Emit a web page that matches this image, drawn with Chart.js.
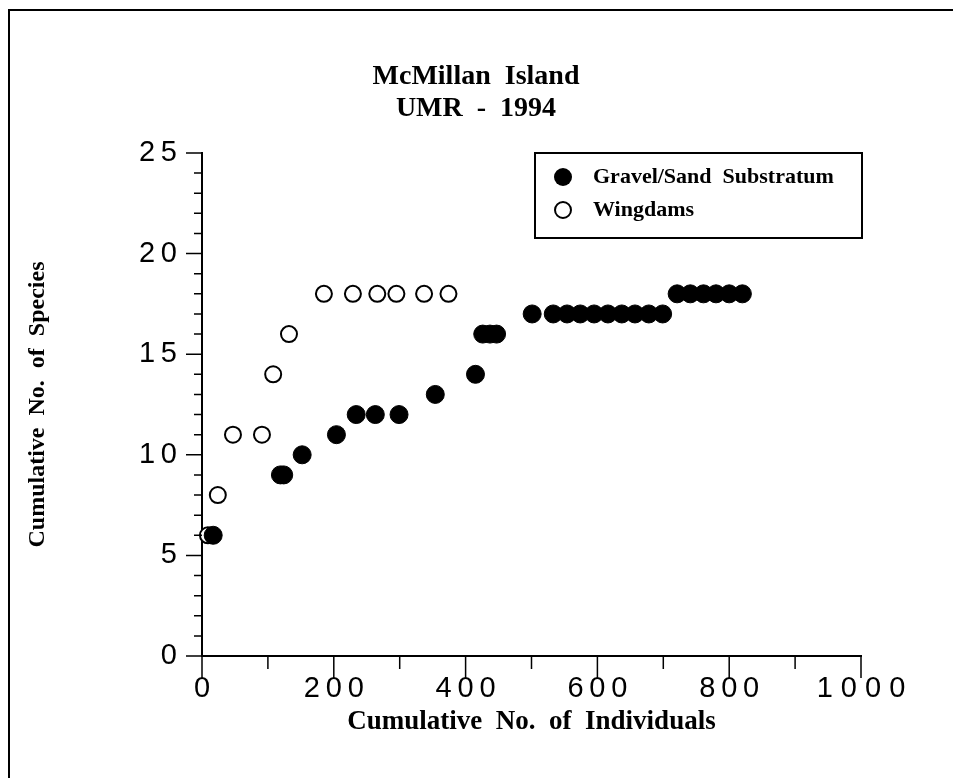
<!DOCTYPE html>
<html>
<head>
<meta charset="utf-8">
<title>McMillan Island - UMR 1994</title>
<script src="https://cdn.jsdelivr.net/npm/chart.js@4.4.1/dist/chart.umd.min.js"></script>
<style>
  html, body { margin: 0; padding: 0; background: #fff; }
  #wrap { position: relative; width: 953px; height: 778px; }
</style>
</head>
<body>
<div id="wrap"><canvas id="chart" width="953" height="778"></canvas></div>
<script>
// chart text
const titleLines = ['McMillan  Island', 'UMR  -  1994'];
const xTitle = 'Cumulative  No.  of  Individuals';
const yTitle = 'Cumulative  No.  of  Species';
const xTicks = [0, 200, 400, 600, 800, 1000];
const yTicks = [0, 5, 10, 15, 20, 25];

// Gravel/Sand substratum (filled circles)
const gravelLabel = 'Gravel/Sand  Substratum';
const gravelX = [17, 119, 124, 152, 204, 234, 263, 299, 354, 415, 426, 437, 447, 501,
  533, 554, 574, 595, 616, 637, 657, 678, 699, 721, 741, 761, 780, 800, 820];
const gravelY = [6, 9, 9, 10, 11, 12, 12, 12, 13, 14, 16, 16, 16, 17,
  17, 17, 17, 17, 17, 17, 17, 17, 17, 18, 18, 18, 18, 18, 18];

// Wingdams (open circles)
const wingLabel = 'Wingdams';
const wingX = [9, 24, 47, 91, 108, 132, 185, 229, 266, 295, 337, 374];
const wingY = [6, 8, 11, 11, 14, 16, 18, 18, 18, 18, 18, 18];

const toPoints = (xs, ys) => xs.map((x, i) => ({x: x, y: ys[i]}));
// digits are typeset loosely; the four-digit label a bit more so
const spaced = v => {
    const s = String(v);
    return s.split('').join(s.length > 3 ? ' ' : '\u2009');
};

// frame, minor ticks, title and boxed legend
const extras = {
    id: 'extras',
    afterDraw(chart) {
        const ctx = chart.ctx;
        const x = chart.scales.x;
        const y = chart.scales.y;
        ctx.save();
        ctx.strokeStyle = '#000';
        ctx.fillStyle = '#000';

        // page frame
        ctx.lineWidth = 2;
        ctx.strokeRect(9, 10, 980, 800);

        // tick marks, long at labelled values
        ctx.lineWidth = 1.5;
        ctx.beginPath();
        for (let v = y.min; v <= y.max; v++) {
            const py = y.getPixelForValue(v);
            const len = yTicks.includes(v) ? 16 : 8;
            ctx.moveTo(x.left - len, py);
            ctx.lineTo(x.left, py);
        }
        for (let v = x.min; v <= x.max; v += 100) {
            const px = x.getPixelForValue(v);
            const len = xTicks.includes(v) ? 22 : 13;
            ctx.moveTo(px, y.bottom);
            ctx.lineTo(px, y.bottom + len);
        }
        ctx.stroke();

        // title
        ctx.textAlign = 'center';
        ctx.textBaseline = 'middle';
        ctx.font = 'bold 28px "Liberation Serif"';
        titleLines.forEach((t, i) => ctx.fillText(t, 476, 77 + i * 32));

        // legend box
        ctx.lineWidth = 2;
        ctx.strokeRect(535, 153, 327, 85);
        ctx.textAlign = 'left';
        ctx.font = 'bold 22px "Liberation Serif"';
        chart.data.datasets.forEach((ds, i) => {
            const cy = 177 + i * 33;
            ctx.beginPath();
            if (i === 0) {
                ctx.arc(563, cy, 9, 0, Math.PI * 2);
                ctx.fill();
            } else {
                ctx.arc(563, cy, 8, 0, Math.PI * 2);
                ctx.stroke();
            }
            ctx.fillText(ds.label, 593, cy);
        });
        ctx.restore();
    }
};

const ctx = document.getElementById('chart').getContext('2d');
const chart = new Chart(ctx, {
    type: 'scatter',
    data: {
        datasets: [{
            label: gravelLabel,
            data: toPoints(gravelX, gravelY),
            pointRadius: 9,
            pointHoverRadius: 9,
            backgroundColor: '#000',
            borderColor: '#000',
            borderWidth: 1,
            clip: false
        }, {
            label: wingLabel,
            data: toPoints(wingX, wingY),
            pointRadius: 8,
            pointHoverRadius: 8,
            backgroundColor: '#fff',
            borderColor: '#000',
            borderWidth: 2,
            clip: false
        }]
    },
    options: {
        responsive: false,
        devicePixelRatio: 1,
        animation: false,
        events: [],
        layout: {
            padding: {left: 0, right: 92, top: 153, bottom: 0}
        },
        scales: {
            x: {
                type: 'linear',
                min: 0,
                max: 1000,
                afterFit: scale => { scale.height = 122; },
                afterBuildTicks: scale => { scale.ticks = xTicks.map(v => ({value: v})); },
                grid: {display: false, drawTicks: false},
                border: {display: true, color: '#000', width: 2},
                ticks: {
                    color: '#000',
                    padding: 16,
                    maxRotation: 0,
                    font: {family: 'Liberation Sans', size: 29},
                    callback: v => spaced(v)
                },
                title: {
                    display: true,
                    text: xTitle,
                    color: '#000',
                    font: {family: 'Liberation Serif', size: 27, weight: 'bold'},
                    padding: {top: 0, bottom: 40}
                }
            },
            y: {
                type: 'linear',
                min: 0,
                max: 25,
                afterFit: scale => { scale.width = 202; },
                afterBuildTicks: scale => { scale.ticks = yTicks.map(v => ({value: v})); },
                grid: {display: false, drawTicks: false},
                border: {display: true, color: '#000', width: 2},
                ticks: {
                    color: '#000',
                    padding: 25,
                    font: {family: 'Liberation Sans', size: 29},
                    callback: v => spaced(v)
                },
                title: {
                    display: true,
                    text: yTitle,
                    color: '#000',
                    font: {family: 'Liberation Serif', size: 24, weight: 'bold'},
                    padding: {top: 23, bottom: 0}
                }
            }
        },
        plugins: {
            legend: {display: false},
            title: {display: false},
            tooltip: {enabled: false}
        }
    },
    plugins: [extras]
});
</script>
</body>
</html>
